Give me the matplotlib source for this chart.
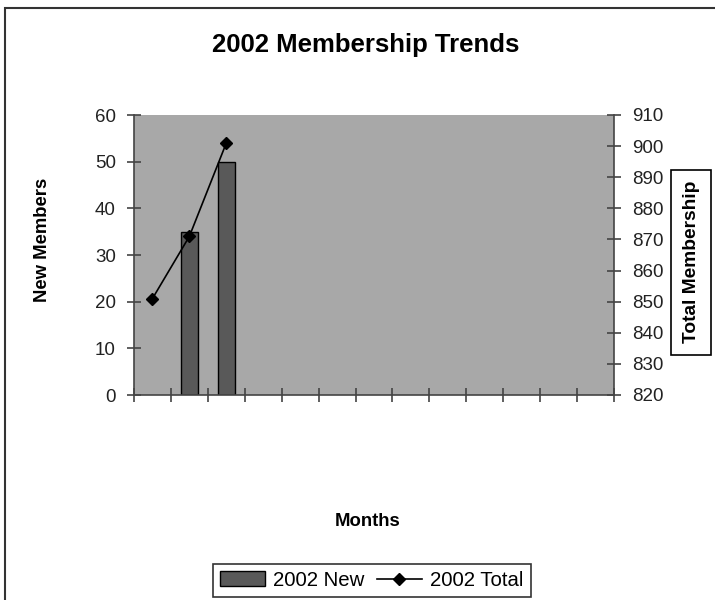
import numpy as np
import matplotlib
matplotlib.use('Agg')
import matplotlib.pyplot as plt
from matplotlib.patches import Rectangle, Patch
from matplotlib.lines import Line2D

plt.rcParams['font.family'] = ['Liberation Sans', 'DejaVu Sans']

# 13 category slots on the x axis, no labels shown
n_slots = 13
new_idx = [1, 2]
new_members = [35, 50]
total_idx = [0, 1, 2]
total_members = [851, 871, 901]

left_ticks = [0, 10, 20, 30, 40, 50, 60]
right_ticks = [820, 830, 840, 850, 860, 870, 880, 890, 900, 910]

fig = plt.figure(figsize=(7.15, 6.0), dpi=100)
fig.patch.set_facecolor('white')

# outer chart border (left/top visible)
fig.patches.append(Rectangle((5 / 715, -0.05), 1.2, 1 - 8 / 600 + 0.05,
                             transform=fig.transFigure, fill=False,
                             edgecolor='#333333', linewidth=1.5))

ax = fig.add_axes([134 / 715, 1 - 395 / 600, 480 / 715, 280 / 600])
ax.set_facecolor('#a8a8a8')

ax.bar(np.array(new_idx), new_members, width=0.46, color='#595959',
       edgecolor='black', linewidth=1.0, zorder=2)
ax.set_xlim(-0.5, n_slots - 0.5)
ax.set_ylim(0, 60)
ax.set_yticks(left_ticks)
ax.set_xticks(np.arange(-0.5, n_slots, 1))
ax.set_xticklabels([])
ax.tick_params(axis='both', direction='inout', length=10, width=1.2,
               color='#444444', labelsize=13.5, labelcolor='#222222', pad=4)
ax.tick_params(axis='y', pad=8)
for s in ['top', 'right']:
    ax.spines[s].set_visible(False)
for s in ['left', 'bottom']:
    ax.spines[s].set_color('#444444')
    ax.spines[s].set_linewidth(1.2)

ax2 = ax.twinx()
ax2.plot(np.array(total_idx), total_members, color='black', linewidth=1.2,
         marker='D', markersize=6, zorder=3)
ax2.set_ylim(820, 910)
ax2.set_yticks(right_ticks)
ax2.tick_params(axis='y', direction='inout', length=10, width=1.2,
                color='#444444', labelsize=13.5, labelcolor='#222222', pad=8)
for s in ['top', 'left', 'bottom']:
    ax2.spines[s].set_visible(False)
ax2.spines['right'].set_color('#444444')
ax2.spines['right'].set_linewidth(1.2)

fig.text(0.512, 0.925, '2002 Membership Trends', ha='center', va='center',
         fontsize=18.5, fontweight='bold')
fig.text(0.059, 0.6, 'New Members', ha='center', va='center', rotation=90,
         fontsize=13.3, fontweight='bold')
fig.text(0.514, 0.13, 'Months', ha='center', va='center',
         fontsize=13.3, fontweight='bold')
fig.text(0.9665, 0.563, 'Total Membership', ha='center', va='center',
         rotation=90, fontsize=13.8, fontweight='bold',
         bbox=dict(boxstyle='square,pad=0.6', facecolor='white',
                   edgecolor='black', linewidth=1.2))

handles = [Patch(facecolor='#595959', edgecolor='black', linewidth=1.0),
           Line2D([], [], color='black', linewidth=1.2, marker='D',
                  markersize=6)]
leg = fig.legend(handles, ['2002 New', '2002 Total'], loc='center',
                 bbox_to_anchor=(0.52, 0.033), ncol=2, fontsize=14.7,
                 frameon=True, fancybox=False, handlelength=2.2,
                 handletextpad=0.4, columnspacing=0.6, borderpad=0.35,
                 borderaxespad=0)
leg.get_frame().set_edgecolor('black')
leg.get_frame().set_linewidth(1.2)

fig.savefig('out.png', dpi=100)
